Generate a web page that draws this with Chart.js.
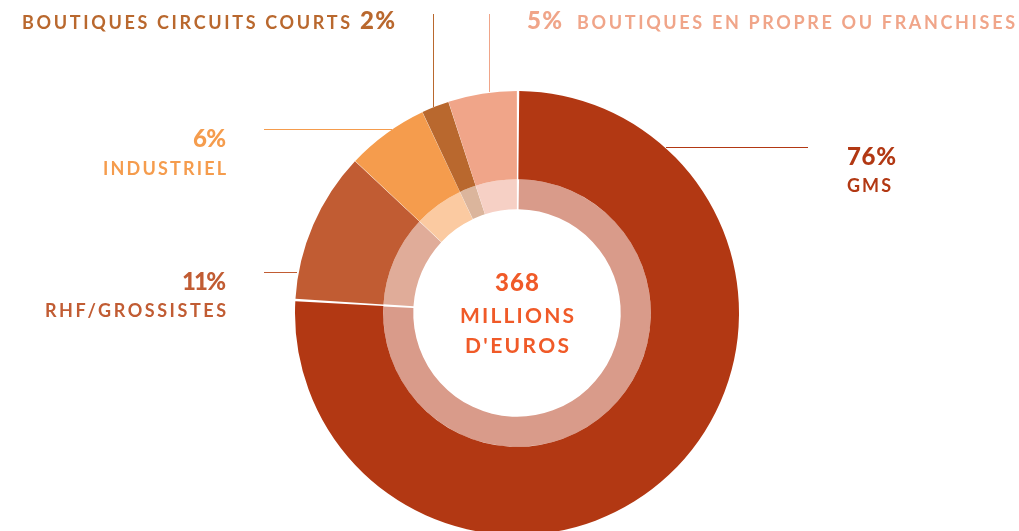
<!DOCTYPE html>
<html>
<head>
<meta charset="utf-8">
<script src="https://cdn.jsdelivr.net/npm/chart.js@4"></script>
<style>
  html, body { margin: 0; padding: 0; background: #fff; overflow: hidden; }
  #wrap { position: relative; width: 1019px; height: 540px; }
</style>
</head>
<body>
<div id="wrap"><canvas id="myChart"></canvas></div>
<script>
const categories = ['GMS', 'RHF/GROSSISTES', 'INDUSTRIEL', 'BOUTIQUES CIRCUITS COURTS', 'BOUTIQUES EN PROPRE OU FRANCHISES'];
const shares = [76, 11, 6, 2, 5];
const totalLabel = ['368', 'MILLIONS', "D'EUROS"];

const outerColors = ['#b23813', '#c15c33', '#f59c4d', '#b9682e', '#f0a589'];
const innerColors = ['#d99b8a', '#e0ac99', '#fbcaa1', '#dbb59c', '#f6d0c5'];

// label layout: percent + name, where to put them, leader line
const labelLayout = [
  { pct: { x: 847, y: 165, w: 49, align: 'left' }, name: { x: 847, y: 192, w: 44, align: 'left' }, line: [666, 147.5, 808, 147.5] },
  { pct: { x: 226, y: 290, w: 44, align: 'right' }, name: { x: 226, y: 317, w: 181, align: 'right' }, line: [264, 272.5, 297, 272.5] },
  { pct: { x: 226, y: 147, w: 33, align: 'right' }, name: { x: 226, y: 175, w: 123, align: 'right' }, line: [264, 129.5, 392, 129.5] },
  { pct: { x: 360, y: 29, w: 35, align: 'left' }, name: { x: 22, y: 29, w: 328, align: 'left' }, line: [433.5, 14, 433.5, 107] },
  { pct: { x: 527, y: 29, w: 35, align: 'left' }, name: { x: 577, y: 29, w: 438, align: 'left' }, line: [489.5, 14, 489.5, 92] }
];

function fitText(ctx, text, x, y, width, align) {
  ctx.letterSpacing = '0px';
  const w0 = ctx.measureText(text).width;
  const ls = text.length > 1 ? (width - w0) / (text.length - 1) : 0;
  ctx.letterSpacing = ls + 'px';
  let left = x;
  if (align === 'right') left = x - width;
  if (align === 'center') left = x - width / 2;
  ctx.textAlign = 'left';
  ctx.fillText(text, left, y);
  ctx.letterSpacing = '0px';
}

const labelsPlugin = {
  id: 'labels',
  afterDraw(chart) {
    const ctx = chart.ctx;
    ctx.save();
    ctx.textBaseline = 'alphabetic';
    categories.forEach((name, i) => {
      const l = labelLayout[i];
      ctx.strokeStyle = outerColors[i];
      ctx.lineWidth = 1;
      ctx.beginPath();
      ctx.moveTo(l.line[0], l.line[1]);
      ctx.lineTo(l.line[2], l.line[3]);
      ctx.stroke();
      ctx.fillStyle = outerColors[i];
      ctx.font = '900 24px Lato';
      fitText(ctx, shares[i] + '%', l.pct.x, l.pct.y, l.pct.w, l.pct.align);
      ctx.font = 'bold 18px Lato';
      fitText(ctx, name, l.name.x, l.name.y, l.name.w, l.name.align);
    });
    // centre total
    const cx = 517;
    ctx.fillStyle = '#f05a28';
    ctx.font = '900 24px Lato';
    fitText(ctx, totalLabel[0], cx, 291, 44, 'center');
    ctx.font = 'bold 21px Lato';
    fitText(ctx, totalLabel[1], cx, 323, 114, 'center');
    fitText(ctx, totalLabel[2], cx, 353, 104, 'center');
    ctx.restore();
  }
};

const data = {
  labels: categories,
  datasets: [
    {
      label: 'Part',
      data: shares,
      backgroundColor: outerColors,
      borderWidth: 0,
      weight: 88
    },
    {
      label: 'Part (int.)',
      data: shares,
      backgroundColor: innerColors,
      borderWidth: 0,
      weight: 30
    }
  ]
};

const config = {
  type: 'doughnut',
  data: data,
  options: {
    responsive: true,
    maintainAspectRatio: false,
    animation: false,
    cutout: 103,
    spacing: 1.5,
    layout: { padding: { left: 295, right: 280, top: 91, bottom: 5 } },
    plugins: {
      legend: { display: false },
      tooltip: { enabled: false }
    }
  },
  plugins: [labelsPlugin]
};

const myChart = new Chart(document.getElementById('myChart'), config);
</script>
</body>
</html>
